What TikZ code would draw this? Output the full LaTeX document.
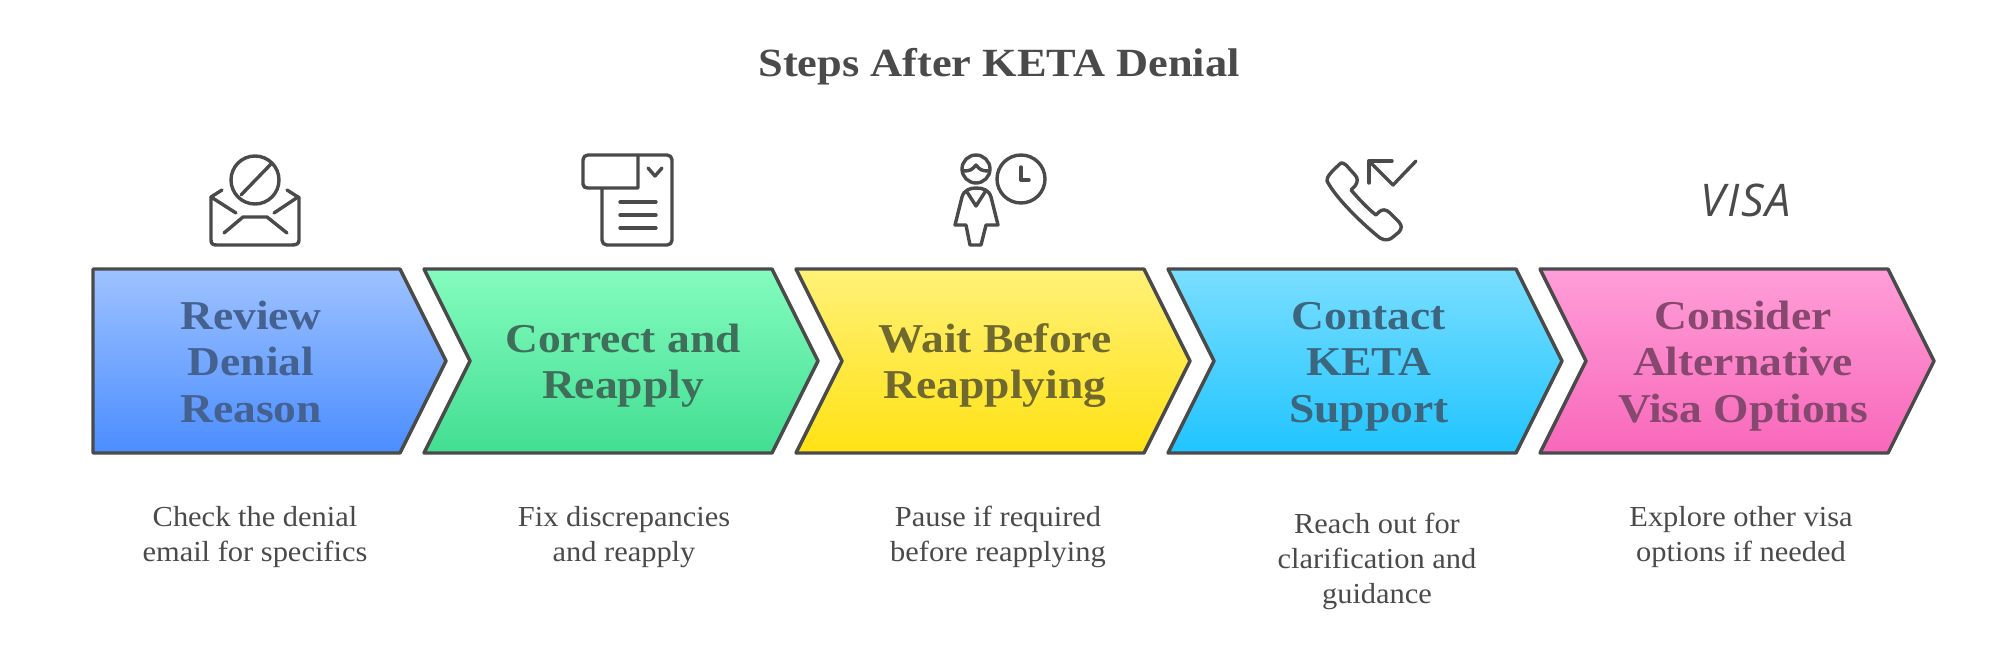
\documentclass[tikz,border=0pt]{standalone}
\usepackage{fontspec}
\setmainfont{Liberation Serif}[FakeStretch=1.05]
\newfontfamily\headfont{Liberation Serif}[BoldFont={Liberation Serif Bold},BoldFeatures={FakeStretch=1.11}]
\newfontfamily\visafont{Open Sans}[LetterSpace=4]
\definecolor{ink}{HTML}{4A4A4A}
\newcommand{\hs}{\rule[-14pt]{0pt}{46.5pt}}
\tikzset{x=1pt,y=-1pt,
 chev/.style={draw=ink,line width=3.4pt,line join=round},
 ico/.style={draw=ink,line width=3.4pt,line cap=round,line join=round,fill=none},
 headtxt/.style={align=center,font=\headfont\bfseries\fontsize{41}{46.5}\selectfont},
 desc/.style={align=center,text=ink,font=\fontsize{29}{35}\selectfont},
}
\begin{document}
\begin{tikzpicture}
\useasboundingbox (0,0) rectangle (1999,656);
\node[text=ink,font=\headfont\bfseries\fontsize{40}{44}\selectfont] (title) at (999,66.5) {Steps After KETA Denial};
% chevrons
\draw[chev,top color={rgb,255:red,158;green,194;blue,255},bottom color={rgb,255:red,75;green,141;blue,255}] (93,269)--(400,269)--(446,361)--(400,453)--(93,453)--cycle;
\draw[chev,top color={rgb,255:red,132;green,252;blue,190},bottom color={rgb,255:red,66;green,222;blue,146}] (424,269)--(772,269)--(818,361)--(772,453)--(424,453)--(470,361)--cycle;
\draw[chev,top color={rgb,255:red,255;green,241;blue,120},bottom color={rgb,255:red,255;green,226;blue,20}] (796,269)--(1144,269)--(1190,361)--(1144,453)--(796,453)--(842,361)--cycle;
\draw[chev,top color={rgb,255:red,122;green,222;blue,255},bottom color={rgb,255:red,32;green,196;blue,255}] (1168,269)--(1516,269)--(1562,361)--(1516,453)--(1168,453)--(1214,361)--cycle;
\draw[chev,top color={rgb,255:red,255;green,158;blue,216},bottom color={rgb,255:red,248;green,104;blue,186}] (1540,269)--(1888,269)--(1934,361)--(1888,453)--(1540,453)--(1586,361)--cycle;
% heads
\node[headtxt,text={rgb,255:red,68;green,97;blue,143}] (h1) at (251,366.5) {\hs Review\\\hs Denial\\\hs Reason};
\node[headtxt,text={rgb,255:red,63;green,110;blue,90}] (h2) at (623,366) {\hs Correct and\\\hs Reapply};
\node[headtxt,text={rgb,255:red,111;green,105;blue,47}] (h3) at (995,366) {\hs Wait Before\\\hs Reapplying};
\node[headtxt,text={rgb,255:red,60;green,102;blue,125}] (h4) at (1369,366.5) {\hs Contact\\\hs KETA\\\hs Support};
\node[headtxt,text={rgb,255:red,135;green,72;blue,112}] (h5) at (1743,366.5) {\hs Consider\\\hs Alternative\\\hs Visa Options};
% descriptions
\node[desc] (d1) at (255,537) {Check the denial\\email for specifics};
\node[desc] (d2) at (624,537) {Fix discrepancies\\and reapply};
\node[desc] (d3) at (998,537) {Pause if required\\before reapplying};
\node[desc] (d4) at (1377,561) {Reach out for\\clarification and\\guidance};
\node[desc] (d5) at (1741,537) {Explore other visa\\options if needed};
% icon 1
\draw[ico] (255,180) circle (24);
\draw[ico] (241,195)--(271,164);
\draw[ico] (222,190)--(211,197) (287,190)--(298,197);
\draw[ico] (211,197)--(236,213) (298,197)--(274,213);
\draw[ico] (211,197)--(211,240) .. controls (211,244) and (213,245) .. (217,245)--(292,245) .. controls (296,245) and (299,244) .. (299,240)--(299,197);
\draw[ico] (224,233)--(243,217)--(267,217)--(287,233);
% icon 2
\draw[ico] (602,189)--(602,240) .. controls (602,243) and (604,245) .. (607,245)--(667,245) .. controls (670,245) and (672,243) .. (672,240)--(672,160) .. controls (672,157) and (670,155) .. (667,155)--(588,155) .. controls (585,155) and (583,157) .. (583,160)--(583,184) .. controls (583,187) and (585,188) .. (588,188)--(638,188)--(638,155);
\draw[ico] (648,168)--(655,176)--(662,168);
\draw[ico] (620,202)--(656,202) (620,215)--(656,215) (620,228)--(656,228);
% icon 3
\draw[ico] (976,169) circle (14);
\draw[ico] (963,171) .. controls (970,171) and (972,170) .. (976,165) .. controls (980,170) and (982,171) .. (989,171);
\draw[ico] (1021,179) circle (24);
\draw[ico] (1021,167)--(1021,180)--(1029,180);
\draw[ico] (955,225)--(962,197) .. controls (964,190) and (970,188) .. (976,188) .. controls (983,188) and (989,190) .. (991,197)--(998,225)--(986,225)--(981,245)--(970,245)--(966,225)--cycle;
\draw[ico] (967,192)--(976,206)--(985,192);
% icon 4
\draw[ico] (1341,163) .. controls (1333,170) and (1326,177) .. (1327,181) .. controls (1337,200) and (1365,226) .. (1380,238) .. controls (1385,241) and (1390,240) .. (1393,237)--(1399,232) .. controls (1402,228) and (1402,226) .. (1399,222)--(1390,213) .. controls (1386,209) and (1382,209) .. (1379,212)--(1376,215) .. controls (1367,208) and (1358,198) .. (1351,190)--(1355,186) .. controls (1358,182) and (1358,178) .. (1355,175)--(1346,165) .. controls (1344,163) and (1342,163) .. (1341,163)--cycle;
\draw[ico] (1369,183)--(1369,161)--(1392,161);
\draw[ico] (1369,161)--(1393,185)--(1416,161);
% icon 5
\node[text=ink,font=\visafont\itshape\fontsize{45}{45}\selectfont] (visa) at (1746,200) {VISA};
\end{tikzpicture}
\end{document}
